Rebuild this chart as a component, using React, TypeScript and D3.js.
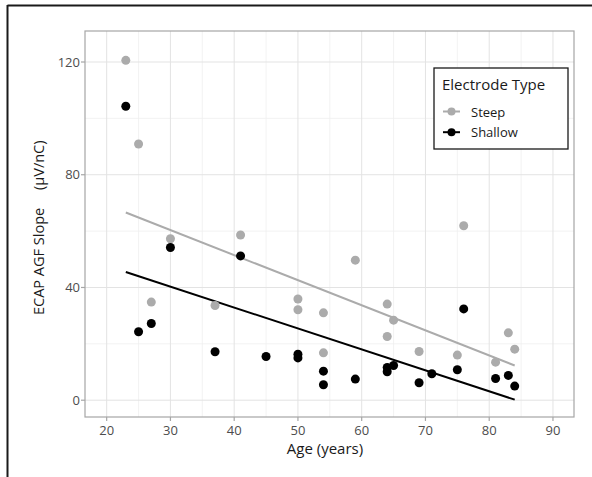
import React from "react";
import * as d3 from "d3";

const steepAge = [23, 25, 27, 30, 37, 41, 50, 50, 54, 54, 59, 64, 64, 65, 69, 75, 76, 81, 83, 84];
const steepSlope = [120.6, 90.9, 34.8, 57.3, 33.6, 58.6, 35.9, 32.1, 31.0, 16.8, 49.7, 34.1, 22.6, 28.4, 17.3, 16.0, 61.9, 13.5, 23.9, 18.1];
const shallowAge = [23, 25, 27, 30, 37, 41, 45, 50, 50, 54, 54, 59, 64, 64, 65, 69, 71, 75, 76, 81, 83, 84];
const shallowSlope = [104.3, 24.3, 27.2, 54.2, 17.2, 51.2, 15.5, 16.3, 15.0, 10.3, 5.5, 7.5, 11.6, 10.1, 12.3, 6.2, 9.4, 10.8, 32.4, 7.7, 8.8, 5.0];
const fitAge = [23, 84];
const steepFit = [66.6, 12.3];
const shallowFit = [45.5, 0.2];
const xTicks = [20, 30, 40, 50, 60, 70, 80, 90];
const xMinor = [25, 35, 45, 55, 65, 75, 85];
const yTicks = [0, 40, 80, 120];
const yMinor = [20, 60, 100];
const seriesNames = ["Steep", "Shallow"];
const seriesColors = ["#ababab", "#000000"];

const FONT = "'Open Sans', sans-serif";

export default function App() {
  const left = 85, right = 574, top = 31, bottom = 417;
  const x = d3.scaleLinear().domain([16.6, 93.3]).range([left, right]);
  const y = d3.scaleLinear().domain([-5.96, 131]).range([bottom, top]);
  const line = d3.line<[number, number]>().x(d => x(d[0])).y(d => y(d[1]));

  const steepPts = steepAge.map((a, i) => [a, steepSlope[i]] as [number, number]);
  const shallowPts = shallowAge.map((a, i) => [a, shallowSlope[i]] as [number, number]);
  const steepLine = fitAge.map((a, i) => [a, steepFit[i]] as [number, number]);
  const shallowLine = fitAge.map((a, i) => [a, shallowFit[i]] as [number, number]);

  const lx = 434, ly = 68, lw = 134, lh = 81;

  return (
    <svg width={592} height={477} style={{ position: "absolute", left: 0, top: 0, background: "#fff" }} fontFamily={FONT}>
      <rect x={0} y={0} width={592} height={477} fill="#fff" />
      {/* outer frame */}
      <line x1={7.5} x2={592} y1={5.5} y2={5.5} stroke="#1a1a1a" strokeWidth={2} />
      <line x1={7.5} x2={7.5} y1={5} y2={477} stroke="#1a1a1a" strokeWidth={2} />

      {/* grid */}
      {xMinor.map(v => (
        <line key={"xm" + v} x1={x(v)} x2={x(v)} y1={top} y2={bottom} stroke="#efefef" strokeWidth={0.8} />
      ))}
      {yMinor.map(v => (
        <line key={"ym" + v} x1={left} x2={right} y1={y(v)} y2={y(v)} stroke="#efefef" strokeWidth={0.8} />
      ))}
      {xTicks.map(v => (
        <line key={"xg" + v} x1={x(v)} x2={x(v)} y1={top} y2={bottom} stroke="#e3e3e3" strokeWidth={1} />
      ))}
      {yTicks.map(v => (
        <line key={"yg" + v} x1={left} x2={right} y1={y(v)} y2={y(v)} stroke="#e3e3e3" strokeWidth={1} />
      ))}

      {/* panel border */}
      <rect x={left} y={top} width={right - left} height={bottom - top} fill="none" stroke="#a6a6a6" strokeWidth={1.2} />

      {/* ticks */}
      {xTicks.map(v => (
        <g key={"xt" + v}>
          <line x1={x(v)} x2={x(v)} y1={bottom} y2={bottom + 4} stroke="#a6a6a6" strokeWidth={1.2} />
          <text x={x(v)} y={434.5} textAnchor="middle" fontSize={13} fill="#4d4d4d">{v}</text>
        </g>
      ))}
      {yTicks.map(v => (
        <g key={"yt" + v}>
          <line x1={left - 4} x2={left} y1={y(v)} y2={y(v)} stroke="#a6a6a6" strokeWidth={1.2} />
          <text x={left - 5} y={y(v) + 4.5} textAnchor="end" fontSize={13} fill="#4d4d4d">{v}</text>
        </g>
      ))}

      {/* axis titles */}
      <text x={325} y={453.5} textAnchor="middle" fontSize={15} fill="#1a1a1a">Age (years)</text>
      <g transform="translate(44,315) rotate(-90)">
        <text x={0} y={0} fontSize={14.5} fill="#1a1a1a">ECAP AGF Slope</text>
        <text x={125} y={0} fontSize={14.5} fill="#1a1a1a">(µV/nC)</text>
      </g>

      {/* regression lines */}
      <path d={line(steepLine) || ""} stroke={seriesColors[0]} strokeWidth={2} fill="none" />
      <path d={line(shallowLine) || ""} stroke={seriesColors[1]} strokeWidth={2} fill="none" />

      {/* points */}
      {steepPts.map((p, i) => (
        <circle key={"s" + i} cx={x(p[0])} cy={y(p[1])} r={4.5} fill={seriesColors[0]} />
      ))}
      {shallowPts.map((p, i) => (
        <circle key={"h" + i} cx={x(p[0])} cy={y(p[1])} r={4.5} fill={seriesColors[1]} />
      ))}

      {/* legend */}
      <rect x={lx} y={ly} width={lw} height={lh} fill="#fff" stroke="#1a1a1a" strokeWidth={1.3} />
      <text x={442} y={90} fontSize={15} fill="#1a1a1a">Electrode Type</text>
      {seriesNames.map((n, i) => (
        <g key={n}>
          <line x1={443} x2={460} y1={111.5 + i * 20.7} y2={111.5 + i * 20.7} stroke={seriesColors[i]} strokeWidth={2} />
          <circle cx={451.5} cy={111.5 + i * 20.7} r={4} fill={seriesColors[i]} />
          <text x={471} y={116.5 + i * 20.7} fontSize={13} fill="#1a1a1a">{n}</text>
        </g>
      ))}
    </svg>
  );
}
